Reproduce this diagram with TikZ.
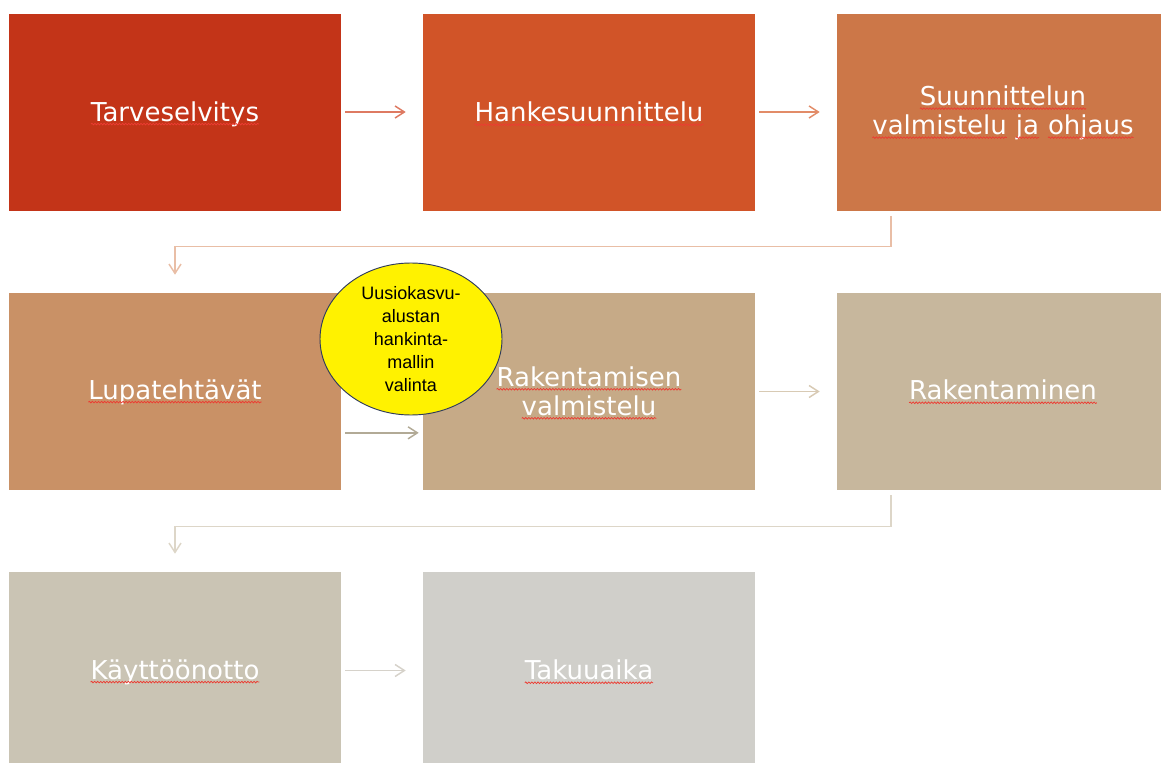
\documentclass[tikz,border=0pt]{standalone}
\usepackage{fontspec}
\setmainfont{DejaVu Sans}
\newfontfamily\arialf{Liberation Sans}
\usetikzlibrary{arrows.meta,shapes.geometric,decorations.pathmorphing}
\definecolor{cA}{RGB}{195,52,24}
\definecolor{cB}{RGB}{209,84,40}
\definecolor{cC}{RGB}{204,119,72}
\definecolor{cD}{RGB}{201,145,102}
\definecolor{cE}{RGB}{198,170,135}
\definecolor{cF}{RGB}{199,183,157}
\definecolor{cG}{RGB}{202,196,180}
\definecolor{cH}{RGB}{208,207,202}
\definecolor{aA}{RGB}{222,122,98}
\definecolor{aB}{RGB}{226,140,104}
\definecolor{kA}{RGB}{233,190,166}
\definecolor{aC}{RGB}{178,170,150}
\definecolor{aD}{RGB}{216,202,180}
\definecolor{kB}{RGB}{221,214,200}
\definecolor{aE}{RGB}{214,210,202}
\definecolor{sq}{RGB}{236,60,50}
\definecolor{edge}{RGB}{47,59,92}
\newcommand\sqw[1]{\tikz[baseline=(w.base)]{\node[inner sep=0pt,outer sep=0pt] (w) {#1};\draw[sq,line width=0.55pt,decorate,decoration={snake,amplitude=0.6pt,segment length=2.3pt}] ([yshift=-2.2pt]w.base west) -- ([yshift=-2.2pt]w.base east);}}
\tikzset{
  box/.style={rectangle,inner sep=0pt,minimum width=249pt,minimum height=147.75pt},
  lbl/.style={text=white,align=center,inner sep=0pt,font={\fontsize{19.5}{21.75}\selectfont}},
  arr/.style={line width=1.1pt,-{Straight Barb[length=7pt,width=9pt]}},
  conn/.style={line width=1.1pt,-{Straight Barb[length=7pt,width=9pt]}}
}
\begin{document}
\begin{tikzpicture}[x=0.75pt,y=-0.75pt]
\useasboundingbox (0,0) rectangle (1161,763);
% row 1
\node[box,fill=cA] (b1) at (175,113) {};
\node[box,fill=cB] (b2) at (589,113) {};
\node[box,fill=cC] (b3) at (1003,113) {};
% row 2
\node[box,fill=cD] (b4) at (175,391.5) {};
\node[box,fill=cE] (b5) at (589,391.5) {};
\node[box,fill=cF] (b6) at (1003,391.5) {};
% row 3
\node[box,fill=cG] (b7) at (175,670.5) {};
\node[box,fill=cH] (b8) at (589,670.5) {};
% labels
\node[lbl] (t1) at (175,114) {\sqw{Tarveselvitys}};
\node[lbl] (t2) at (589,114) {\sqw{Hankesuunnittelu}};
\node[lbl] (t3) at (1003,113) {\sqw{Suunnittelun}\\\sqw{valmistelu} \sqw{ja} \sqw{ohjaus}};
\node[lbl] (t4) at (175,392) {\sqw{Lupatehtävät}};
\node[lbl] (t5) at (589,393) {\sqw{Rakentamisen}\\\sqw{valmistelu}};
\node[lbl] (t6) at (1003,392) {\sqw{Rakentaminen}};
\node[lbl] (t7) at (175,672) {\sqw{Käyttöönotto}};
\node[lbl] (t8) at (589,672) {\sqw{Takuuaika}};
% arrows
\draw[arr,aA,shorten <=3pt,shorten >=12.75pt] ([yshift=0.75pt]b1.east) -- ([yshift=0.75pt]b2.west);
\draw[arr,aB,shorten <=3pt,shorten >=12.75pt] ([yshift=0.75pt]b2.east) -- ([yshift=0.75pt]b3.west);
\draw[conn,kA] ([xshift=-84pt]b3.south) ++(0,4) -- ++(0,31) -| ([yshift=13.5pt]b4.north);
\draw[arr,aC,shorten <=3pt,shorten >=3pt] ([yshift=-31pt]b4.east) -- ([yshift=-31pt]b5.west);
\draw[arr,aD,shorten <=3pt,shorten >=12.75pt] (b5.east) -- (b6.west);
\draw[conn,kB] ([xshift=-84pt]b6.south) ++(0,5) -- ++(0,31) -| ([yshift=13.5pt]b7.north);
\draw[arr,aE,shorten <=3pt,shorten >=12.75pt] (b7.east) -- (b8.west);
% ellipse
\node[ellipse,draw=edge,line width=0.7pt,fill=yellow,minimum width=136.5pt,minimum height=114pt,inner sep=0pt,align=center,font={\arialf\fontsize{13.5}{17.25}\selectfont}] (e) at (411,339) {Uusiokasvu-\\alustan\\hankinta-\\mallin\\valinta};
\end{tikzpicture}
\end{document}
